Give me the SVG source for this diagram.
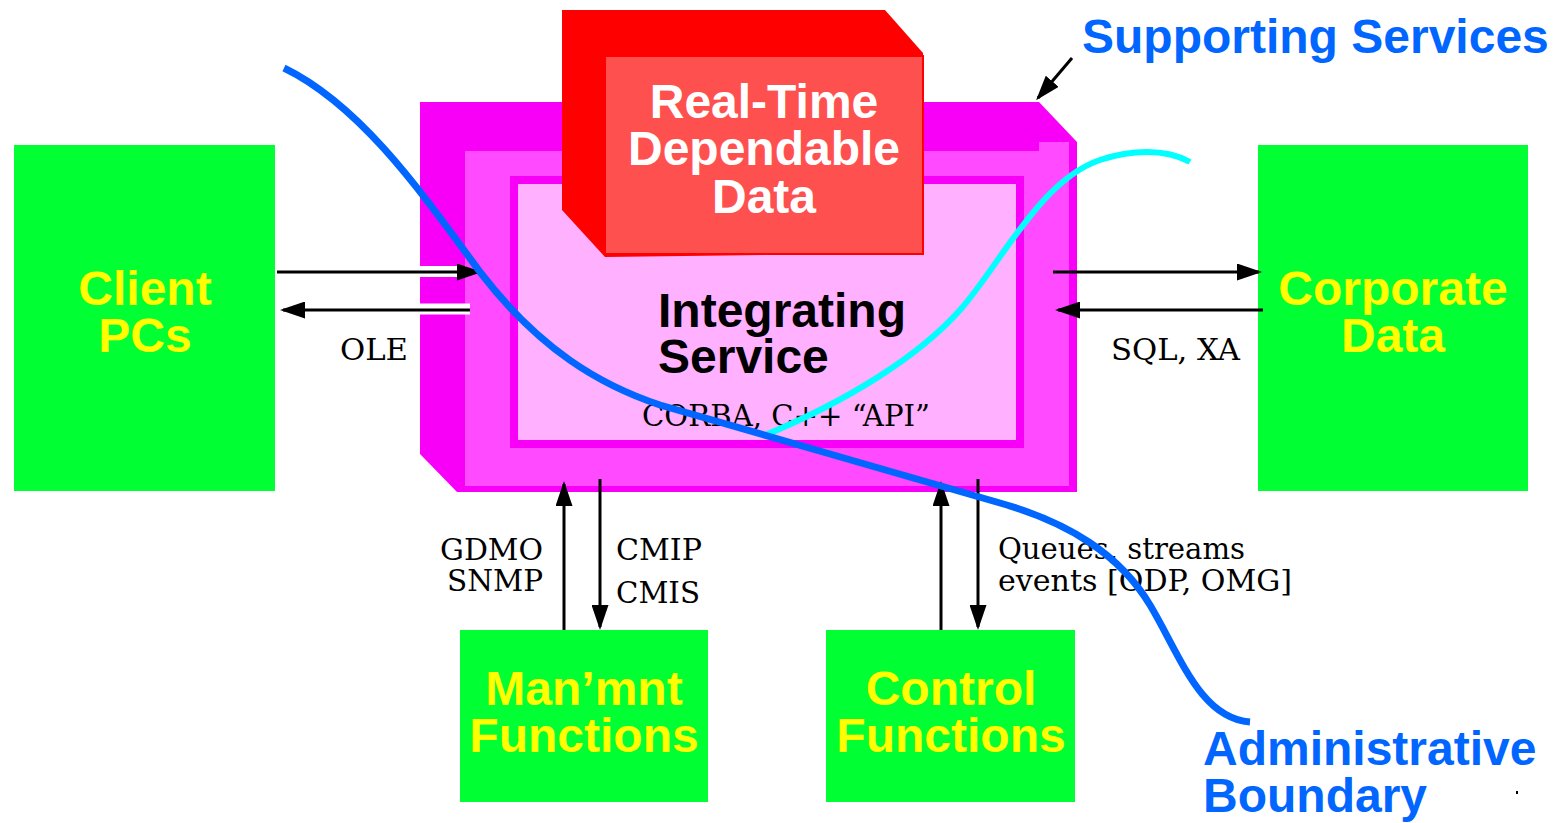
<svg xmlns="http://www.w3.org/2000/svg" width="1556" height="823" viewBox="0 0 1556 823">
<defs>
<style>
.box{fill:#00ff33}
.sans{font-family:"Liberation Sans",Arial,Helvetica,sans-serif;font-weight:bold;font-size:48px}
.yl{fill:#ffff00;text-anchor:middle}
.wh{fill:#ffffff;text-anchor:middle}
.bk{fill:#000000}
.bl{fill:#0066ff}
.lbl{font-family:"DejaVu Serif","Liberation Serif",serif;font-size:29px;fill:#000000}
.arr{stroke:#000000;stroke-width:3;fill:none;marker-end:url(#ah)}
.case{stroke:#ffffff;stroke-width:11;fill:none}
</style>
<marker id="ah" markerUnits="userSpaceOnUse" markerWidth="25" markerHeight="17" refX="22" refY="8.5" orient="auto" viewBox="0 0 25 17"><path d="M0,0 L25,8.5 L0,17 z" fill="#000000"/></marker>
</defs>
<rect width="1556" height="823" fill="#ffffff"/>

<g id="integrating-service">
  <polygon points="420,102 1039,102 1077,142 1077,492 457,492 420,454" fill="#f800f8"/>
  <polygon points="465,151 1039,151 1039,142 1069,142 1069,486 465,486" fill="#ff4aff"/>
  <rect x="514" y="180" width="506" height="264" fill="#ffb0ff" stroke="#f800f8" stroke-width="8"/>
  <text class="sans bk" x="658" y="327">Integrating</text>
  <text class="sans bk" x="658" y="373">Service</text>
  <text class="lbl" x="642" y="426" textLength="288" lengthAdjust="spacingAndGlyphs">CORBA, C++ “API”</text>
</g>

<g id="realtime-data">
  <polygon points="562,10 885,10 923,53 923,253 605,257 562,210" fill="#ff0000"/>
  <rect x="605" y="56" width="318" height="198" fill="#ff5050" stroke="#ff0000" stroke-width="2"/>
  <text class="sans wh" x="764" y="118">Real-Time</text>
  <text class="sans wh" x="764" y="165">Dependable</text>
  <text class="sans wh" x="764" y="213">Data</text>
</g>

<g id="client-pcs">
  <rect class="box" x="14" y="145" width="261" height="346"/>
  <text class="sans yl" x="145" y="305">Client</text>
  <text class="sans yl" x="145" y="352">PCs</text>
</g>

<g id="corporate-data">
  <rect class="box" x="1258" y="145" width="270" height="346"/>
  <text class="sans yl" x="1393" y="305">Corporate</text>
  <text class="sans yl" x="1393" y="352">Data</text>
</g>

<g id="mgmt-functions">
  <rect class="box" x="460" y="630" width="248" height="172"/>
  <text class="sans yl" x="584" y="705">Man’mnt</text>
  <text class="sans yl" x="584" y="752">Functions</text>
</g>

<g id="control-functions">
  <rect class="box" x="826" y="630" width="249" height="172"/>
  <text class="sans yl" x="951" y="705">Control</text>
  <text class="sans yl" x="951" y="752">Functions</text>
</g>

<g id="connectors">
  <line class="case" x1="420" y1="271.5" x2="466" y2="271.5"/>
  <line class="case" x1="420" y1="309" x2="470" y2="309"/>
  <line class="arr" x1="277" y1="272" x2="479" y2="272"/>
  <line class="arr" x1="470" y1="310" x2="283" y2="310"/>
  <line class="arr" x1="1053" y1="272" x2="1259" y2="272"/>
  <line class="arr" x1="1263" y1="310" x2="1058" y2="310"/>
  <line class="arr" x1="564" y1="630" x2="564" y2="484"/>
  <line class="arr" x1="600" y1="479" x2="600" y2="627"/>
  <line class="arr" x1="941" y1="630" x2="941" y2="484"/>
  <line class="arr" x1="978" y1="479" x2="978" y2="627"/>
  <line class="arr" x1="1072" y1="58" x2="1038" y2="98"/>
  <text class="lbl" x="340" y="360" textLength="68" lengthAdjust="spacingAndGlyphs">OLE</text>
  <text class="lbl" x="1111" y="360" textLength="129" lengthAdjust="spacingAndGlyphs">SQL, XA</text>
  <text class="lbl" x="440" y="560" textLength="103" lengthAdjust="spacingAndGlyphs">GDMO</text>
  <text class="lbl" x="447" y="591" textLength="96" lengthAdjust="spacingAndGlyphs">SNMP</text>
  <text class="lbl" x="616" y="560" textLength="86" lengthAdjust="spacingAndGlyphs">CMIP</text>
  <text class="lbl" x="616" y="603" textLength="84" lengthAdjust="spacingAndGlyphs">CMIS</text>
  <text class="lbl" x="998" y="559" textLength="247" lengthAdjust="spacingAndGlyphs">Queues, streams</text>
  <text class="lbl" x="998" y="591" textLength="294" lengthAdjust="spacingAndGlyphs">events [ODP, OMG]</text>
</g>

<g id="boundaries">
  <path d="M763,436 C850,400 920,355 960,310 C1000,265 1040,180 1100,160 C1130,150 1165,148 1190,162" fill="none" stroke="#00ffff" stroke-width="6"/>
  <path d="M284,68 C360,105 420,190 480,272 C540,350 600,385 660,405 C773,438 887,470 1000,503 C1070,523 1120,555 1150,605 C1180,655 1200,718 1250,722" fill="none" stroke="#0066ff" stroke-width="7"/>
</g>

<g id="titles">
  <text class="sans bl" x="1082" y="53">Supporting Services</text>
  <text class="sans bl" x="1203" y="765">Administrative</text>
  <text class="sans bl" x="1203" y="812">Boundary</text>
  <rect x="1516" y="791" width="2" height="3" fill="#000000"/>
</g>
</svg>
